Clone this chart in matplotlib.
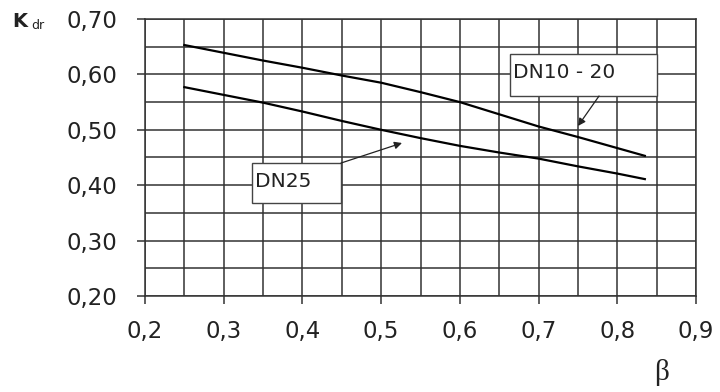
import matplotlib
matplotlib.use('Agg')
import matplotlib.pyplot as plt
import matplotlib.patches as patches
from matplotlib.ticker import MultipleLocator, FuncFormatter

# Curve data
beta = [0.25, 0.30, 0.35, 0.40, 0.45, 0.50, 0.55, 0.60, 0.65, 0.70, 0.75, 0.80, 0.835]
k_dn10_20 = [0.653, 0.639, 0.625, 0.612, 0.598, 0.585, 0.568, 0.550, 0.528, 0.506, 0.487, 0.467, 0.453]
k_dn25 = [0.577, 0.563, 0.549, 0.533, 0.516, 0.500, 0.485, 0.471, 0.459, 0.448, 0.434, 0.421, 0.411]

x_ticks = [0.2, 0.3, 0.4, 0.5, 0.6, 0.7, 0.8, 0.9]
y_ticks = [0.20, 0.30, 0.40, 0.50, 0.60, 0.70]

grid_col = '#333333'

fig = plt.figure(figsize=(7.2, 3.92), dpi=100)
ax = fig.add_axes([145/720, 1 - 296/392, (696 - 145)/720, (296 - 19)/392])

ax.plot(beta, k_dn10_20, color='black', lw=1.6, zorder=3)
ax.plot(beta, k_dn25, color='black', lw=1.6, zorder=3)

ax.set_xlim(0.2, 0.9)
ax.set_ylim(0.2, 0.7)
ax.set_xticks(x_ticks)
ax.set_yticks(y_ticks)
ax.xaxis.set_minor_locator(MultipleLocator(0.05))
ax.yaxis.set_minor_locator(MultipleLocator(0.05))
ax.grid(True, which='both', color=grid_col, lw=1.1)
ax.set_axisbelow(True)

for s in ax.spines.values():
    s.set_color(grid_col)
    s.set_linewidth(1.1)

ax.xaxis.set_major_formatter(FuncFormatter(lambda v, p: f'{v:.1f}'.replace('.', ',')))
ax.yaxis.set_major_formatter(FuncFormatter(lambda v, p: f'{v:.2f}'.replace('.', ',')))
ax.tick_params(which='major', length=6, width=1.1, color=grid_col, labelsize=16.5,
               labelcolor='#222222')
ax.tick_params(axis='y', which='major', pad=14)
ax.tick_params(axis='x', which='major', pad=11)
ax.tick_params(which='minor', length=0)

# label boxes
boxes = {
    'DN10 - 20': dict(x0=0.6638, x1=0.8506, y0=0.5610, y1=0.6368, ty=0.5935,
                      tail=(0.7768, 0.561), tip=(0.7501, 0.5069)),
    'DN25': dict(x0=0.3359, x1=0.4490, y0=0.3679, y1=0.4401, ty=0.3968,
                 tail=(0.449, 0.440), tip=(0.5265, 0.4762)),
}
for name, b in boxes.items():
    rect = patches.Rectangle((b['x0'], b['y0']), b['x1'] - b['x0'], b['y1'] - b['y0'],
                             facecolor='white', edgecolor='#444444', lw=1.0, zorder=4)
    ax.add_patch(rect)
    ax.text(b['x0'] + 0.004, b['ty'], name, fontsize=14.5, color='#222222',
            va='baseline', ha='left', zorder=5)
    ax.annotate('', xy=b['tip'], xytext=b['tail'], zorder=5,
                arrowprops=dict(arrowstyle='-|>', color='#222222', lw=0.9,
                                mutation_scale=11, shrinkA=0, shrinkB=0))

# axis labels
fig.text(12/720, 1 - 27/392, 'K', fontsize=14, fontweight='bold', color='#222222',
         va='baseline', ha='left')
fig.text(31/720, 1 - 29/392, 'dr', fontsize=9, color='#222222', va='baseline', ha='left')
fig.text(662/720, 1 - 372/392, 'β', fontsize=21, family='Liberation Serif',
         color='#222222', va='center', ha='center')

fig.savefig('out.png', dpi=100)
